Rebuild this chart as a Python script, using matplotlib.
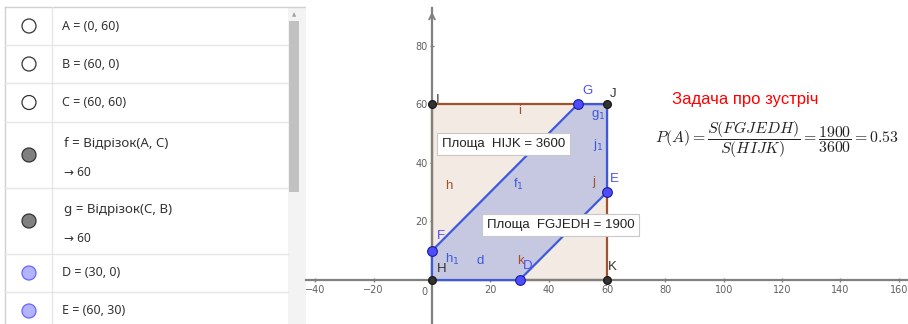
import matplotlib.pyplot as plt
from matplotlib.patches import Polygon, Rectangle, Circle

# square HIJK
square_names = ['H', 'I', 'J', 'K']
square_x = [0, 0, 60, 60]
square_y = [0, 60, 60, 0]

# shaded region FGJEDH
region_names = ['F', 'G', 'J', 'E', 'D', 'H']
region_x = [0, 50, 60, 60, 30, 0]
region_y = [10, 60, 60, 30, 0, 0]

blue_points = ['F', 'G', 'E', 'D']
area_square = 3600
area_region = 1900

x_ticks = [-40, -20, 20, 40, 60, 80, 100, 120, 140, 160]
y_ticks = [20, 40, 60, 80]

# algebra view rows: (text, second line, circle style)
algebra_rows = [
    ('A = (0, 60)', None, 'white'),
    ('B = (60, 0)', None, 'white'),
    ('C = (60, 60)', None, 'white'),
    ('f = Відрізок(A, C)', '→ 60', 'gray'),
    ('g = Відрізок(C, B)', '→ 60', 'gray'),
    ('D = (30, 0)', None, 'blue'),
    ('E = (60, 30)', None, 'blue'),
]
row_heights = [38, 38, 39, 66, 66, 38, 38]

BROWN = '#a0522d'
BLUE = '#3d5adc'
PT_BLUE = '#4d4dff'
AXIS = '#808080'
FAM = ['Noto Sans', 'DejaVu Sans']

fig = plt.figure(figsize=(9.08, 3.24), dpi=100)

# ---------------- algebra view ----------------
la = fig.add_axes([0, 0, 306 / 908, 1])
la.set_xlim(0, 306)
la.set_ylim(324, 0)
la.axis('off')
la.plot([5, 306], [7, 7], color='#d0d0d0', lw=1)
la.plot([5, 5], [7, 324], color='#d0d0d0', lw=1)
la.plot([52, 52], [7, 324], color='#e6e6e6', lw=1)
la.add_patch(Rectangle((288, 7), 18, 317, color='#f3f3f3', lw=0))
la.add_patch(Rectangle((289, 21), 10, 171, color='#c1c1c1', lw=0))
la.text(294, 15, '▲', fontsize=4, color='#a0a0a0', ha='center', va='center')

styles = {'white': ('white', '#333333'), 'gray': ('#808080', '#333333'),
          'blue': ('#b3b3ff', '#6666ff')}
top = 7
for (txt, sub, st), h in zip(algebra_rows, row_heights):
    fc, ec = styles[st]
    cy = top + h / 2
    la.add_patch(Circle((29, cy), 7, fc=fc, ec=ec, lw=0.9))
    if sub is None:
        la.text(62, cy, txt, fontsize=9, color='#333333', va='center',
                family=FAM)
    else:
        la.text(64, top + 22, txt, fontsize=9.6, color='#333333', va='center',
                family=FAM)
        la.text(64, top + 50, sub, fontsize=8.6, color='#333333', va='center',
                family=FAM)
    top += h
    la.plot([5, 288], [top, top], color='#e6e6e6', lw=1)

# ---------------- graphics view ----------------
ax = fig.add_axes([306 / 908, 0, 602 / 908, 316 / 324])
ax.set_xlim(-43.2, 163.2)
ax.set_ylim(-15, 92.8)
for s in ['top', 'right']:
    ax.spines[s].set_visible(False)
for s in ['left', 'bottom']:
    ax.spines[s].set_position(('data', 0))
    ax.spines[s].set_color(AXIS)
    ax.spines[s].set_linewidth(1.6)
ax.set_xticks(x_ticks)
ax.set_yticks(y_ticks)
ax.tick_params(colors=AXIS, labelcolor='#606060', labelsize=7, length=2.5,
               width=1, direction='inout', pad=2)
ax.text(-1.5, -2.5, '0', fontsize=7, color='#606060', ha='right', va='top')
ax.annotate('', xy=(0, 92.5), xytext=(0, 88),
            arrowprops=dict(arrowstyle='->', color=AXIS, lw=1.4))

sq = list(zip(square_x, square_y))
ax.add_patch(Polygon(sq, closed=True, fc='#f4eae4', ec=BROWN, lw=1.6, zorder=2))
rg = list(zip(region_x, region_y))
ax.add_patch(Polygon(rg, closed=True, fc='#c5c8e0', ec=BLUE, lw=1.6, zorder=3))

pts = dict(zip(square_names, zip(square_x, square_y)))
pts.update(dict(zip(region_names, zip(region_x, region_y))))
for name, (px, py) in pts.items():
    if name in blue_points:
        ax.plot(px, py, 'o', ms=7, mfc=PT_BLUE, mec='#1a1a99', mew=0.8, zorder=5)
    else:
        ax.plot(px, py, 'o', ms=5.5, mfc='#333333', mec='#1a1a1a', zorder=5)

point_labels = {'I': (1.3, 59.3), 'G': (51.4, 62.5), 'J': (61.0, 61.4),
                'E': (61.0, 32.4), 'F': (1.7, 13.0), 'D': (31.2, 2.7),
                'H': (1.7, 1.7), 'K': (60.3, 2.4)}
for name, (lx, ly) in point_labels.items():
    col = PT_BLUE if name in blue_points else '#333333'
    ax.text(lx, ly, name, fontsize=9.5, color=col, ha='left', va='bottom',
            family='Liberation Sans', zorder=6)

seg_labels = [('i', 29.5, 55.6, BROWN), ('h', 4.5, 30.0, BROWN),
              ('j', 54.9, 31.4, BROWN), ('k', 29.3, 4.4, BROWN),
              ('g$_1$', 54.5, 53.9, BLUE), ('j$_1$', 55.2, 43.3, BLUE),
              ('f$_1$', 27.8, 30.0, BLUE), ('h$_1$', 4.5, 4.6, BLUE),
              ('d', 15.4, 4.4, BLUE)]
for txt, lx, ly, col in seg_labels:
    ax.text(lx, ly, txt, fontsize=9.5, color=col, ha='left', va='bottom',
            family='Liberation Sans', math_fontfamily='dejavusans', zorder=6)

box = dict(boxstyle='square,pad=0.35', fc='white', ec='#c8c8c8', lw=0.8)
ax.text(3.4, 46.4, 'Площа  HIJK = %d' % area_square, fontsize=9.5,
        color='#222222', va='center', family='Liberation Sans', bbox=box, zorder=7)
ax.text(18.8, 18.8, 'Площа  FGJEDH = %d' % area_region, fontsize=9.5,
        color='#222222', va='center', family='Liberation Sans', bbox=box, zorder=7)

ax.text(82.3, 59.0, 'Задача про зустріч', fontsize=12, color='#ff0000',
        family='Liberation Sans', ha='left', va='bottom')
ratio = area_region / area_square
ax.text(76.5, 47.8,
        r'$P(A)=\dfrac{S(FGJEDH)}{S(HIJK)}=\dfrac{%d}{%d}=%.2f$'
        % (area_region, area_square, ratio),
        fontsize=11.4, color='#222222', ha='left', va='center',
        math_fontfamily='cm')

fig.savefig('out.png', dpi=100)
